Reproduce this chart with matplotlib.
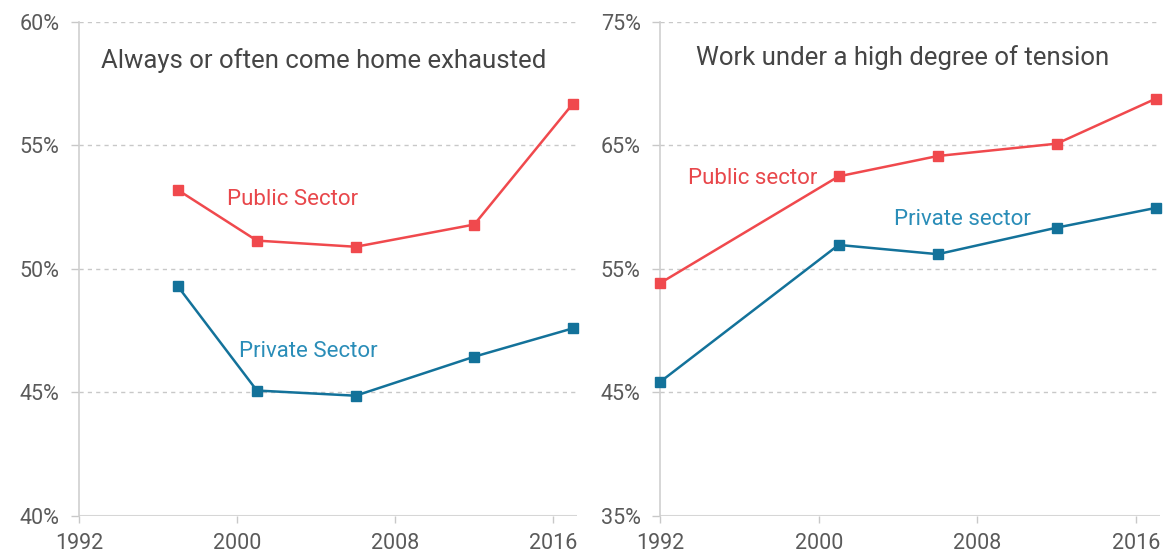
import matplotlib
matplotlib.use("Agg")
import matplotlib.pyplot as plt

plt.rcParams['font.family'] = ['Roboto', 'DejaVu Sans']

# Left panel: always or often come home exhausted
years_left = [1997, 2001, 2006, 2012, 2017]
exhausted_public = [53.2, 51.15, 50.9, 51.8, 56.7]
exhausted_private = [49.3, 45.08, 44.87, 46.45, 47.6]

# Right panel: work under a high degree of tension
years_right = [1992, 2001, 2006, 2012, 2017]
tension_public = [53.85, 62.5, 64.15, 65.15, 68.8]
tension_private = [45.85, 56.95, 56.2, 58.35, 59.95]

x_ticks = [1992, 2000, 2008, 2016]
left_yticks = [40, 45, 50, 55, 60]
right_yticks = [35, 45, 55, 65, 75]

RED = '#F0494D'
BLUE = '#13729A'
RED_TXT = '#E8474B'
BLUE_TXT = '#2A8DB8'
GRID = '#C8C8C8'
TICKTXT = '#5A5A5A'
TITLE = '#454545'

fig = plt.figure(figsize=(11.71, 5.54), dpi=100)
axL = fig.add_axes([79/1171, 1-516/554, (577-79)/1171, (516-22)/554])
axR = fig.add_axes([660/1171, 1-516/554, (1160-660)/1171, (516-22)/554])


def style(ax, yticks):
    ax.set_xlim(1992, 2017.2)
    ax.set_ylim(yticks[0], yticks[-1])
    ax.set_xticks(x_ticks)
    ax.set_xticklabels([str(t) for t in x_ticks])
    ax.set_yticks(yticks)
    ax.set_yticklabels([f"{t}%" for t in yticks])
    for s in ['top', 'right', 'bottom']:
        ax.spines[s].set_visible(False)
    ax.spines['left'].set_color('#CFCFCF')
    ax.spines['left'].set_linewidth(1.2)
    for t in yticks[1:]:
        ax.axhline(t, color=GRID, lw=1.0, ls=(0, (3, 3)), zorder=0)
    ax.axhline(yticks[0], color='#D6D6D6', lw=1.5, zorder=0)
    ax.tick_params(axis='y', length=6, color=GRID, width=1, labelsize=15.5,
                   labelcolor=TICKTXT, pad=8)
    ax.tick_params(axis='x', length=5, color=GRID, width=1, labelsize=15.5,
                   labelcolor=TICKTXT, pad=7, direction='out')


style(axL, left_yticks)
style(axR, right_yticks)

mk = dict(marker='s', markersize=7.5, lw=1.8, clip_on=False, zorder=3)
axL.plot(years_left, exhausted_public, color=RED, **mk)
axL.plot(years_left, exhausted_private, color=BLUE, **mk)
axR.plot(years_right, tension_public, color=RED, **mk)
axR.plot(years_right, tension_private, color=BLUE, **mk)

axL.text(1993.1, 58.45, 'Always or often come home exhausted', fontsize=18.5,
         color=TITLE, va='center', ha='left')
axR.text(1993.8, 72.1, 'Work under a high degree of tension', fontsize=18.5,
         color=TITLE, va='center', ha='left')

axL.text(1999.5, 52.8, 'Public Sector', fontsize=16, color=RED_TXT, va='center', ha='left')
axL.text(2000.1, 46.67, 'Private Sector', fontsize=16, color=BLUE_TXT, va='center', ha='left')
axR.text(1993.4, 62.3, 'Public sector', fontsize=16, color=RED_TXT, va='center', ha='left')
axR.text(2003.8, 59.0, 'Private sector', fontsize=16, color=BLUE_TXT, va='center', ha='left')

fig.savefig('out.png', dpi=100)
